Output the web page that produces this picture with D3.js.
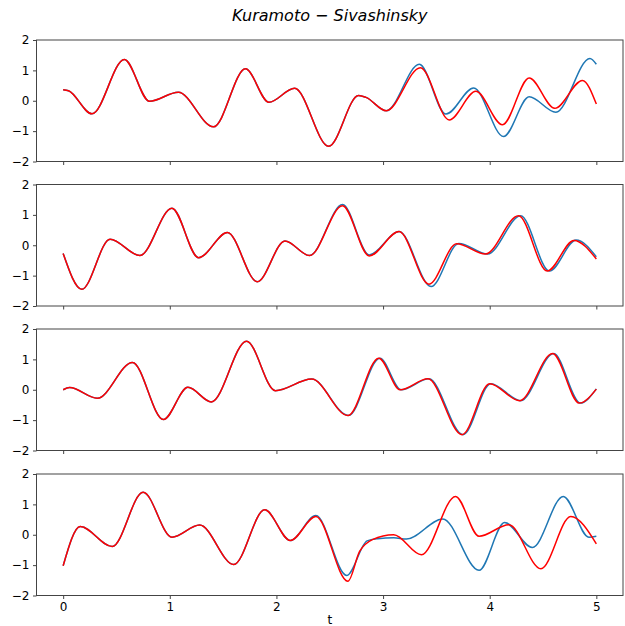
<!DOCTYPE html>
<html>
<head>
<meta charset="utf-8">
<script src="https://cdn.jsdelivr.net/npm/d3@7"></script>
<style>
  html, body { margin: 0; padding: 0; background: #fff; }
  svg { display: block; }
  text { font-family: "DejaVu Sans", sans-serif; }
</style>
</head>
<body>
<svg id="chart" width="625" height="626"></svg>
<script>
// ---------- DATA ----------
const titleText = "Kuramoto \u2212 Sivashinsky";
const xLabel = "t";
const xTicks = [0, 1, 2, 3, 4, 5];
const yTicks = [-2, -1, 0, 1, 2];

// Panel 1
const t1True = [0, 0.05, 0.27, 0.574, 0.81, 1.08, 1.41, 1.71, 1.93, 2.17, 2.49, 2.77, 2.84, 3.03, 3.34, 3.59, 3.85, 4.13, 4.37, 4.62, 4.94, 5.0];
const u1True = [0.36, 0.33, -0.43, 1.36, -0.02, 0.28, -0.86, 1.05, -0.05, 0.41, -1.5, 0.17, 0.11, -0.33, 1.2, -0.44, 0.42, -1.18, 0.13, -0.38, 1.39, 1.2];
const t1Pred = [0, 0.05, 0.27, 0.574, 0.81, 1.08, 1.41, 1.71, 1.93, 2.17, 2.49, 2.77, 2.84, 3.03, 3.35, 3.62, 3.87, 4.12, 4.37, 4.61, 4.87, 5.0];
const u1Pred = [0.36, 0.33, -0.43, 1.36, -0.02, 0.28, -0.86, 1.05, -0.05, 0.41, -1.5, 0.17, 0.11, -0.33, 1.09, -0.63, 0.31, -0.79, 0.75, -0.25, 0.67, -0.11];

// Panel 2
const t2True = [0, 0.175, 0.44, 0.72, 1.02, 1.27, 1.54, 1.82, 2.08, 2.31, 2.62, 2.87, 3.15, 3.45, 3.71, 3.98, 4.29, 4.56, 4.81, 5.0];
const u2True = [-0.27, -1.45, 0.2, -0.34, 1.22, -0.41, 0.42, -1.2, 0.14, -0.34, 1.34, -0.32, 0.45, -1.36, 0.06, -0.29, 0.97, -0.85, 0.17, -0.38];
const t2Pred = [0, 0.175, 0.44, 0.72, 1.02, 1.27, 1.54, 1.82, 2.08, 2.31, 2.62, 2.87, 3.15, 3.43, 3.69, 3.96, 4.27, 4.54, 4.79, 5.0];
const u2Pred = [-0.27, -1.45, 0.2, -0.34, 1.22, -0.41, 0.42, -1.2, 0.14, -0.34, 1.3, -0.35, 0.45, -1.28, 0.05, -0.29, 0.97, -0.85, 0.16, -0.45];

// Panel 3
const t3True = [0, 0.06, 0.32, 0.65, 0.94, 1.17, 1.39, 1.72, 1.99, 2.33, 2.675, 2.97, 3.17, 3.43, 3.75, 4.01, 4.29, 4.6, 4.85, 5.0];
const u3True = [0, 0.07, -0.28, 0.9, -0.98, 0.08, -0.4, 1.6, -0.03, 0.35, -0.85, 1.04, 0.0, 0.36, -1.48, 0.2, -0.36, 1.19, -0.44, 0.03];
const t3Pred = [0, 0.06, 0.32, 0.65, 0.94, 1.17, 1.39, 1.72, 1.99, 2.33, 2.67, 2.96, 3.16, 3.42, 3.74, 4.0, 4.28, 4.59, 4.84, 5.0];
const u3Pred = [0, 0.07, -0.28, 0.9, -0.98, 0.08, -0.4, 1.6, -0.03, 0.35, -0.85, 1.04, 0.0, 0.36, -1.48, 0.2, -0.36, 1.19, -0.44, 0.02];

// Panel 4
const t4True = [0, 0.16, 0.46, 0.75, 1.02, 1.28, 1.6, 1.89, 2.13, 2.37, 2.66, 2.85, 2.95, 3.1, 3.22, 3.56, 3.9, 4.14, 4.4, 4.69, 4.93, 5.0];
const u4True = [-1.02, 0.27, -0.39, 1.4, -0.08, 0.32, -0.98, 0.82, -0.19, 0.63, -1.34, -0.2, -0.13, -0.1, -0.14, 0.52, -1.17, 0.4, -0.42, 1.26, -0.08, -0.05];
const t4Pred = [0, 0.16, 0.46, 0.75, 1.02, 1.28, 1.6, 1.89, 2.13, 2.37, 2.67, 2.78, 2.9, 3.1, 3.36, 3.68, 3.9, 4.18, 4.48, 4.76, 5.0];
const u4Pred = [-1.02, 0.27, -0.39, 1.4, -0.08, 0.32, -0.98, 0.82, -0.19, 0.6, -1.53, -0.55, -0.16, 0.0, -0.66, 1.26, -0.05, 0.33, -1.12, 0.6, -0.3];

const panels = [
  { tTrue: t1True, uTrue: u1True, tPred: t1Pred, uPred: u1Pred },
  { tTrue: t2True, uTrue: u2True, tPred: t2Pred, uPred: u2Pred },
  { tTrue: t3True, uTrue: u3True, tPred: t3Pred, uPred: u3Pred },
  { tTrue: t4True, uTrue: u4True, tPred: t4Pred, uPred: u4Pred }
];

// ---------- LAYOUT ----------
const svg = d3.select("#chart");
const left = 36.5, right = 623;
const tops = [40, 184.5, 329, 474];
const ph = 121.5;
const blue = "#1f77b4", red = "#ff0000";
const axisColor = "#444";

const x = d3.scaleLinear().domain([-0.25, 5.25]).range([left, right]);

svg.append("text")
  .attr("x", (left + right) / 2)
  .attr("y", 21)
  .attr("text-anchor", "middle")
  .attr("font-size", 16)
  .attr("font-style", "italic")
  .text(titleText);

panels.forEach((p, i) => {
  const top = tops[i];
  const y = d3.scaleLinear().domain([-2, 2]).range([top + ph, top]);
  const g = svg.append("g");

  const line = d3.line()
    .x(d => x(d[0]))
    .y(d => y(d[1]))
    .curve(d3.curveMonotoneX);

  const trueData = p.tTrue.map((t, k) => [t, p.uTrue[k]]);
  const predData = p.tPred.map((t, k) => [t, p.uPred[k]]);

  g.append("path").datum(trueData)
    .attr("d", line).attr("fill", "none")
    .attr("stroke", blue).attr("stroke-width", 1.5);
  g.append("path").datum(predData)
    .attr("d", line).attr("fill", "none")
    .attr("stroke", red).attr("stroke-width", 1.5);

  // frame
  g.append("rect")
    .attr("x", left).attr("y", top)
    .attr("width", right - left).attr("height", ph)
    .attr("fill", "none").attr("stroke", axisColor).attr("stroke-width", 1);

  // y axis
  const yAxis = d3.axisLeft(y).tickValues(yTicks).tickSize(3.5).tickPadding(3.5)
    .tickFormat(d => d < 0 ? "\u2212" + Math.abs(d) : String(d));
  const ya = g.append("g").attr("transform", `translate(${left},0)`).call(yAxis);
  ya.select(".domain").remove();
  ya.selectAll("line").attr("stroke", axisColor);
  ya.selectAll("text").attr("font-size", 12).attr("fill", "#000")
    .attr("font-family", "DejaVu Sans, sans-serif");

  // x axis
  const xAxis = d3.axisBottom(x).tickValues(xTicks).tickSize(3.5).tickPadding(3.5)
    .tickFormat(i === 3 ? d3.format("d") : () => "");
  const xa = g.append("g").attr("transform", `translate(0,${top + ph})`).call(xAxis);
  xa.select(".domain").remove();
  xa.selectAll("line").attr("stroke", axisColor);
  xa.selectAll("text").attr("font-size", 12).attr("fill", "#000")
    .attr("font-family", "DejaVu Sans, sans-serif");
});

svg.append("text")
  .attr("x", (left + right) / 2)
  .attr("y", 624)
  .attr("text-anchor", "middle")
  .attr("font-size", 12)
  .text(xLabel);
</script>
</body>
</html>
